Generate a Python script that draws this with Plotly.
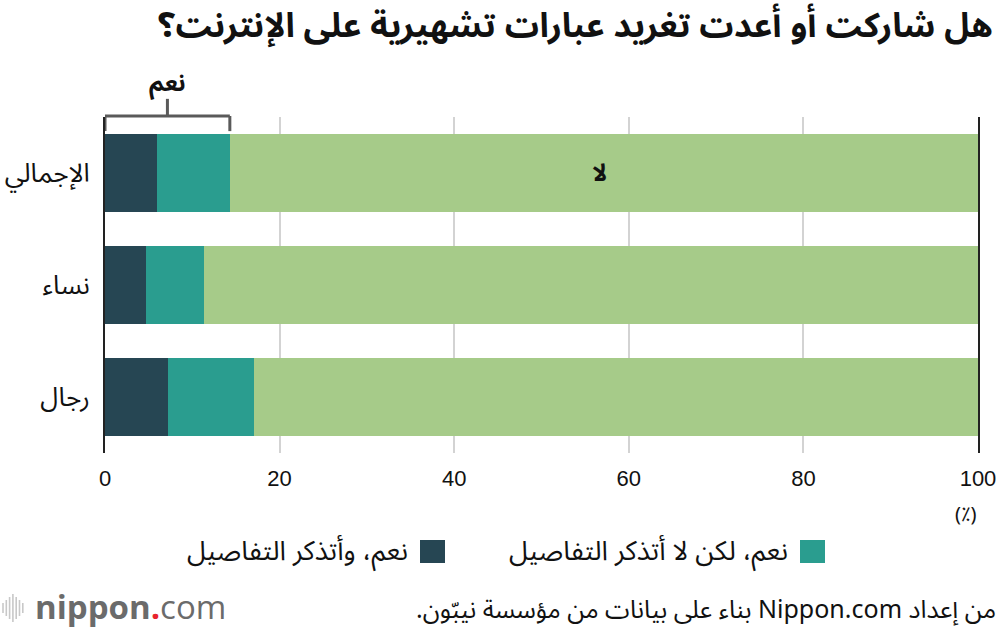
import plotly.graph_objects as go

categories = ["الإجمالي", "نساء", "رجال"]
yes_remember = [6.0, 4.7, 7.2]
yes_not_remember = [8.3, 6.6, 9.9]
no_values = [85.7, 88.7, 82.9]
x_ticks = [0, 20, 40, 60, 80, 100]

series_names = ["نعم، وأتذكر التفاصيل", "نعم، لكن لا أتذكر التفاصيل", "لا"]
colors = ["#264653", "#2a9d8f", "#a6cb89"]

AR = "Noto Sans Arabic, DejaVu Sans, Noto Sans, sans-serif"
NUM = "Liberation Sans, Arial, sans-serif"
RLM = "\u200f"
RLE, PDF = "\u202b", "\u202c"

fig = go.Figure()
for name, vals, col in zip(series_names, [yes_remember, yes_not_remember, no_values], colors):
    fig.add_trace(go.Bar(y=categories, x=vals, name=name, orientation="h",
                         marker=dict(color=col, line=dict(width=0)), showlegend=False))

fig.update_layout(
    barmode="stack", bargap=0.30,
    width=1000, height=632,
    margin=dict(l=105, r=22, t=117, b=179, autoexpand=False),
    plot_bgcolor="white", paper_bgcolor="white",
    xaxis=dict(range=[0, 100], tickvals=x_ticks, showgrid=True, gridcolor="#d3d3d3", gridwidth=2,
               zeroline=False, showline=False, tickfont=dict(family=NUM, size=22, color="#111"),
               ticks="", ticklabelstandoff=10, automargin=False),
    yaxis=dict(categoryorder="array", categoryarray=categories, autorange="reversed",
               showline=True, mirror=True, linecolor="#222", linewidth=2,
               tickfont=dict(family=AR, size=26, color="#111"), ticks="", ticklabelstandoff=8,
               showgrid=False, automargin=False),
)

def px2x(p):
    return (p - 105) / 873

def py2y(p):
    return (453 - p) / 336

# Title
fig.add_annotation(text="<b>هل شاركت أو أعدت تغريد عبارات تشهيرية على الإنترنت؟</b>" + RLM,
                   xref="paper", yref="paper", x=px2x(995), y=py2y(26), xanchor="right", yanchor="middle",
                   showarrow=False, font=dict(family=AR, size=34, color="#111"))

# bracket for yes
yes_total = yes_remember[0] + yes_not_remember[0]
bc = "#5a5a5a"
fig.add_shape(type="line", xref="x", yref="paper", x0=0, x1=yes_total, y0=1.003, y1=1.003, line=dict(color=bc, width=3))
fig.add_shape(type="line", xref="x", yref="paper", x0=0, x1=0, y0=1.003, y1=0.958, line=dict(color=bc, width=3))
fig.add_shape(type="line", xref="x", yref="paper", x0=yes_total, x1=yes_total, y0=1.003, y1=0.958, line=dict(color=bc, width=3))
fig.add_shape(type="line", xref="x", yref="paper", x0=yes_total / 2, x1=yes_total / 2, y0=1.003, y1=1.054, line=dict(color=bc, width=3))
fig.add_annotation(text="<b>نعم</b>", xref="x", yref="paper", x=yes_total / 2, y=py2y(84),
                   yanchor="middle", showarrow=False, font=dict(family=AR, size=24, color="#111"))

# "No" label in first bar
fig.add_annotation(text="<b>لا</b>", xref="x", yref="y", x=56.7, y=categories[0],
                   showarrow=False, font=dict(family=AR, size=24, color="#111"))

# unit
fig.add_annotation(text="(٪)", xref="paper", yref="paper", x=1.0, y=py2y(515), yanchor="middle",
                   showarrow=False, font=dict(family=AR, size=20, color="#111"))

# manual legend (RTL)
leg_y0, leg_y1 = py2y(563), py2y(540)
for (sq0, sq1, txt, col) in [(800, 825, series_names[1], colors[1]), (420, 445, series_names[0], colors[0])]:
    fig.add_shape(type="rect", xref="paper", yref="paper", x0=px2x(sq0), x1=px2x(sq1), y0=leg_y0, y1=leg_y1,
                  fillcolor=col, line=dict(width=0))
    fig.add_annotation(text=txt, xref="paper", yref="paper", x=px2x(sq0 - 10), y=(leg_y0 + leg_y1) / 2,
                       xanchor="right", yanchor="middle", showarrow=False,
                       font=dict(family=AR, size=27, color="#111"))

# source
fig.add_annotation(text=RLE + "من إعداد Nippon.com بناء على بيانات من مؤسسة نيبّون." + PDF,
                   xref="paper", yref="paper",
                   x=px2x(998), y=py2y(610), xanchor="right", yanchor="middle", showarrow=False,
                   font=dict(family=AR, size=25, color="#111"))

# logo
for i, h in enumerate([10, 16, 22, 28, 22, 16, 10]):
    xp = 3 + i * 3.3
    fig.add_shape(type="line", xref="paper", yref="paper", x0=px2x(xp), x1=px2x(xp),
                  y0=py2y(608 + h / 2), y1=py2y(608 - h / 2),
                  line=dict(color="#c8c8c8", width=1.6))
fig.add_annotation(text="<b>nippon</b><span style='color:#e8242c'><b>.</b></span>com", xref="paper", yref="paper",
                   x=px2x(33), y=py2y(606), xanchor="left", yanchor="middle", showarrow=False,
                   font=dict(family="Open Sans, Noto Sans, sans-serif", size=33, color="#6b6b6b"))

fig.write_html("out.html", config={"displayModeBar": False},
               post_script="document.body.style.margin='0';document.body.style.padding='0';")
